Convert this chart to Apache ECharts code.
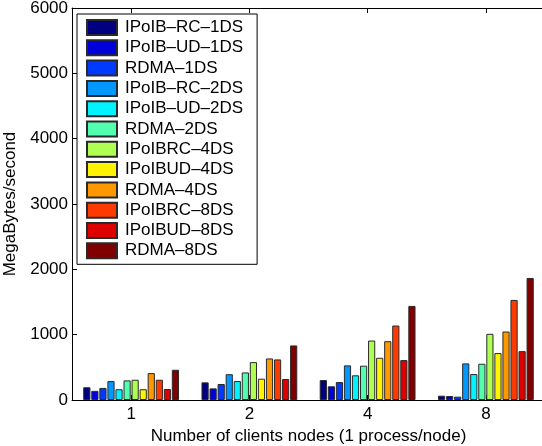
<!DOCTYPE html>
<html>
<head>
<meta charset="utf-8">
<script src="https://cdn.jsdelivr.net/npm/echarts@6/dist/echarts.min.js"></script>
<style>
  html, body { margin: 0; padding: 0; background: #fff; }
  #main { width: 542px; height: 446px; }
</style>
</head>
<body>
<div id="main"></div>
<script>
// 横轴：客户端节点数
const clientNodes = ['1', '2', '4', '8'];
const yTicks = [0, 1000, 2000, 3000, 4000, 5000, 6000];

// 各配置的吞吐量 (MB/s)，按 1, 2, 4, 8 个节点
const ipoibRc1ds  = [195, 270, 305, 66];
const ipoibUd1ds  = [140, 178, 210, 61];
const rdma1ds     = [185, 245, 275, 51];
const ipoibRc2ds  = [290, 395, 530, 560];
const ipoibUd2ds  = [165, 290, 378, 397];
const rdma2ds     = [300, 422, 525, 555];
const ipoibRc4ds  = [310, 580, 910, 1013];
const ipoibUd4ds  = [165, 326, 646, 718];
const rdma4ds     = [412, 636, 900, 1048];
const ipoibRc8ds  = [310, 621, 1140, 1532];
const ipoibUd8ds  = [168, 321, 611, 748];
const rdma8ds     = [463, 835, 1440, 1868];

const seriesNames = [
  'IPoIB–RC–1DS', 'IPoIB–UD–1DS', 'RDMA–1DS',
  'IPoIB–RC–2DS', 'IPoIB–UD–2DS', 'RDMA–2DS',
  'IPoIBRC–4DS', 'IPoIBUD–4DS', 'RDMA–4DS',
  'IPoIBRC–8DS', 'IPoIBUD–8DS', 'RDMA–8DS'
];
const seriesValues = [
  ipoibRc1ds, ipoibUd1ds, rdma1ds,
  ipoibRc2ds, ipoibUd2ds, rdma2ds,
  ipoibRc4ds, ipoibUd4ds, rdma4ds,
  ipoibRc8ds, ipoibUd8ds, rdma8ds
];
// jet 色表取 12 档
const jetColors = [
  '#000080', '#0000dc', '#003aff', '#0097ff', '#00f3ff', '#51ffae',
  '#aeff51', '#fff300', '#ff9700', '#ff3a00', '#dc0000', '#800000'
];

const fontFamily = '"Liberation Sans", Arial, sans-serif';
const fontSize = 17;
const myChart = echarts.init(document.getElementById('main'), null, { renderer: 'canvas' });

let series = seriesNames.map(function (name, i) {
  return {
    name: name,
    type: 'bar',
    data: seriesValues[i],
    barGap: '12%',
    barCategoryGap: '19%',
    itemStyle: {
      color: jetColors[i],
      borderColor: '#2a2a2a',
      borderWidth: 1
    }
  };
});

let option = {
  backgroundColor: '#fff',
  animation: false,
  textStyle: { fontFamily: fontFamily },
  grid: {
    left: 72,
    right: -3,
    top: 8,
    bottom: 46,
    outerBoundsMode: 'none',
    containLabel: false
  },
  legend: {
    orient: 'vertical',
    left: 77,
    top: 14,
    padding: [5, 14, 5, 9],
    backgroundColor: '#fff',
    borderColor: '#000',
    borderWidth: 1,
    itemWidth: 30,
    itemHeight: 15,
    itemGap: 3.3,
    icon: 'rect',
    textStyle: {
      fontFamily: fontFamily,
      fontSize: fontSize,
      lineHeight: 16,
      color: '#000',
      padding: [0, 0, 0, 3]
    },
    data: seriesNames
  },
  xAxis: [{
    type: 'category',
    data: clientNodes,
    name: 'Number of clients nodes (1 process/node)',
    nameLocation: 'middle',
    nameGap: 25,
    nameTextStyle: { fontSize: fontSize, color: '#000', fontFamily: fontFamily },
    axisLine: { onZero: false, lineStyle: { color: '#000', width: 1 } },
    axisTick: { show: true, inside: true, alignWithLabel: true, length: 5, lineStyle: { color: '#000' } },
    axisLabel: { fontSize: fontSize, color: '#000', margin: 6, fontFamily: fontFamily },
    splitLine: { show: false }
  }, {
    type: 'category',
    data: clientNodes,
    position: 'top',
    axisLine: { show: true, onZero: false, lineStyle: { color: '#000', width: 1 } },
    axisTick: { show: true, inside: true, alignWithLabel: true, length: 5, lineStyle: { color: '#000' } },
    axisLabel: { show: false },
    splitLine: { show: false }
  }],
  yAxis: {
    type: 'value',
    min: yTicks[0],
    max: yTicks[yTicks.length - 1],
    interval: 1000,
    name: 'MegaBytes/second',
    nameLocation: 'middle',
    nameGap: 48,
    nameTextStyle: { fontSize: fontSize, color: '#000', fontFamily: fontFamily },
    axisLine: { show: true, lineStyle: { color: '#000', width: 1 } },
    axisTick: { show: true, inside: true, length: 5, lineStyle: { color: '#000' } },
    axisLabel: {
      fontSize: fontSize,
      color: '#000',
      margin: 4,
      fontFamily: fontFamily,
      formatter: function (value) {
        return String(value);
      }
    },
    splitLine: { show: false }
  },
  series: series
};
myChart.setOption(option);
</script>
</body>
</html>
